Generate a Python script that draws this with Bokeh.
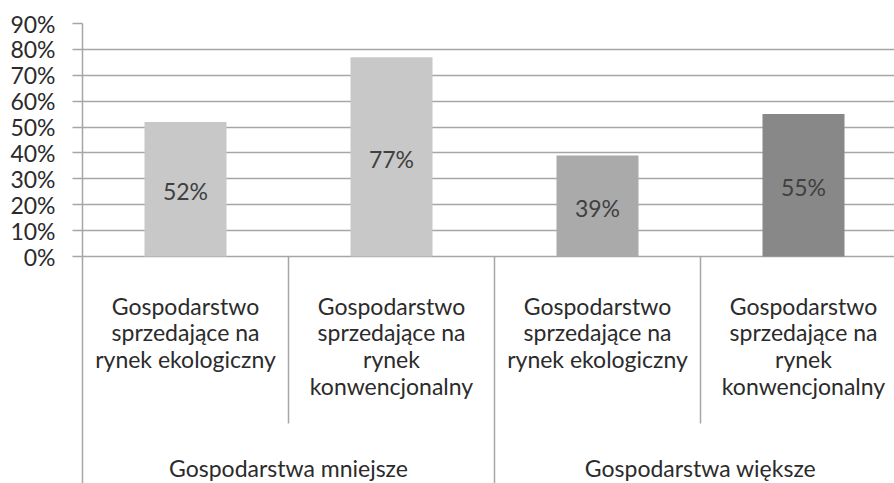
from bokeh.plotting import figure
from bokeh.models import ColumnDataSource, Range1d, FixedTicker
from bokeh.core.properties import value
from bokeh.embed import file_html
from bokeh.resources import INLINE

# ---- data ----
groups = ["Gospodarstwa mniejsze", "Gospodarstwa większe"]
categories = [
    "Gospodarstwo\nsprzedające na\nrynek ekologiczny",
    "Gospodarstwo\nsprzedające na\nrynek\nkonwencjonalny",
    "Gospodarstwo\nsprzedające na\nrynek ekologiczny",
    "Gospodarstwo\nsprzedające na\nrynek\nkonwencjonalny",
]
group_index = [0, 0, 1, 1]
values = [52, 77, 39, 55]
y_ticks = [0, 10, 20, 30, 40, 50, 60, 70, 80, 90]
y_tick_labels = ["0%", "10%", "20%", "30%", "40%", "50%", "60%", "70%", "80%", "90%"]

# ---- styles ----
bar_colors = ["#c8c8c8", "#c8c8c8", "#aaaaaa", "#888888"]
grid_color = "#a6a6a6"
FONT = "Lato"
FS = "23px"
TXT = "#2b2b2b"

# ---- layout ----
W, H = 894, 483
LEFT, TOP = 82, 23
PX = 2.589          # pixels per percent
CAT_PX = 206        # pixels per category
frame_w = W - LEFT
frame_h = H - TOP
y_top = max(y_ticks)
y_bot = y_top - frame_h / PX
x_end = frame_w / CAT_PX


def dy(page_y):
    return y_top - (page_y - TOP) / PX


p = figure(width=W, height=H, output_backend="svg", toolbar_location=None,
           x_range=Range1d(0, x_end), y_range=Range1d(y_bot, y_top),
           x_axis_location=None,
           min_border_left=LEFT, min_border_right=0,
           min_border_top=TOP, min_border_bottom=0)
p.outline_line_color = None
p.background_fill_color = "white"
p.border_fill_color = "white"
p.xgrid.visible = False
p.ygrid.ticker = FixedTicker(ticks=y_ticks)
p.ygrid.grid_line_color = grid_color
p.ygrid.grid_line_width = 1.5

ax = p.yaxis[0]
ax.ticker = FixedTicker(ticks=y_ticks, minor_ticks=[])
ax.major_label_overrides = {t: l for t, l in zip(y_ticks, y_tick_labels)}
ax.axis_line_color = grid_color
ax.axis_line_width = 1.5
ax.major_tick_line_color = grid_color
ax.major_tick_line_width = 1.5
ax.major_tick_out = 10
ax.major_tick_in = 0
ax.minor_tick_line_color = None
ax.major_label_standoff = 17
ax.major_label_text_font = FONT
ax.major_label_text_font_size = FS
ax.major_label_text_color = TXT

# bars
xc = [i + 0.5 for i in range(len(values))]
src = ColumnDataSource(dict(x=xc, top=values, color=bar_colors,
                            mid=[v / 2 for v in values],
                            lab=[f"{v}%" for v in values]))
p.vbar(x="x", top="top", width=82 / CAT_PX, fill_color="color",
       line_color=None, source=src)
p.text(x="x", y="mid", text="lab", source=src, text_align="center",
       text_baseline="middle", text_font=value(FONT), text_font_size=FS,
       text_color="#404040", y_offset=2)

# category labels, line by line
LINE_PX = 26.7
lx, ly, lt = [], [], []
for i, c in enumerate(categories):
    for j, line in enumerate(c.split("\n")):
        lx.append(xc[i])
        ly.append(dy(305 + j * LINE_PX))
        lt.append(line)
p.text(x=lx, y=ly, text=lt, text_align="center", text_baseline="alphabetic",
       text_font=value(FONT), text_font_size=FS, text_color=TXT)

# group labels
gx = []
for g in range(len(groups)):
    members = [xc[i] for i in range(len(categories)) if group_index[i] == g]
    gx.append(sum(members) / len(members))
p.text(x=gx, y=[dy(467)] * len(groups), text=groups, text_align="center",
       text_baseline="alphabetic", text_font=value(FONT),
       text_font_size=FS, text_color=TXT)

# separators
sx0, sy0, sy1 = [], [], []
for b in range(1, len(categories) + 1):
    is_group = b == len(categories) or group_index[b] != group_index[b - 1]
    sx0.append(b)
    sy0.append(0)
    sy1.append(y_bot if is_group else dy(423))
p.segment(x0=sx0, y0=sy0, x1=sx0, y1=sy1, line_color=grid_color,
          line_width=1.5)

open("out.html", "w").write(file_html(p, INLINE))
